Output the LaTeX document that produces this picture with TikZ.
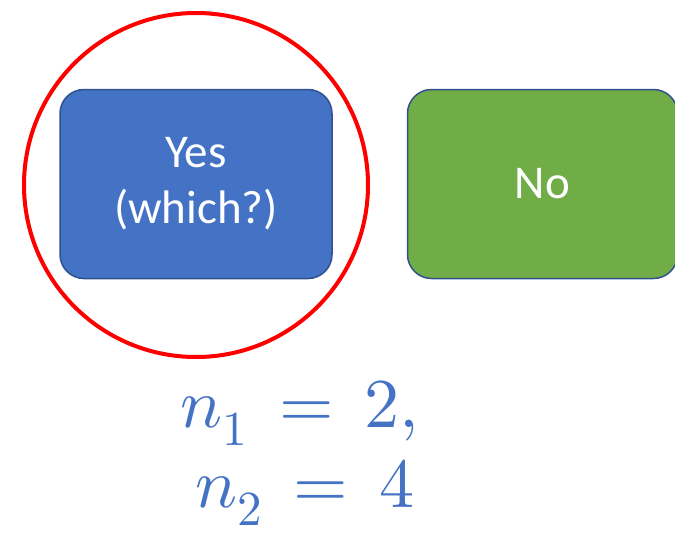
\documentclass[tikz,border=0pt]{standalone}
\usepackage{fontspec}
\usepackage{unicode-math}
\setmainfont{Carlito}
\usepackage{tikz}
\usetikzlibrary{positioning}
\definecolor{accentblue}{HTML}{4472C4}
\definecolor{accentgreen}{HTML}{70AD47}
\definecolor{edgeblue}{HTML}{2F528F}
\tikzset{
  choice/.style={draw=edgeblue, line width=1.5pt, rounded corners=24pt, align=center, text=white, minimum width=272pt, minimum height=189pt, font=\fontsize{47}{56}\selectfont},
  highlight/.style={draw=red, line width=4pt, circle, minimum size=344pt, inner sep=0pt},
  count/.style={align=center, text=accentblue, inner sep=0pt, font=\fontsize{70}{80}\selectfont}
}
\begin{document}
\begin{tikzpicture}[x=1pt, y=-1pt, node distance=74pt]
    \useasboundingbox (0,0) rectangle (675,533);
    \node[choice, fill=accentblue] (yes) at (196,184) {Yes\\(which?)};
    \node[choice, fill=accentgreen, minimum width=270pt, right=of yes] (no) {No};
    \node[highlight] (ring) at (196,185) {};
    \node[count, anchor=north] (counts) at (300,381) {$n_1 \,=\, 2,$\\\hspace{10pt}$n_2 \,=\, 4$};
\end{tikzpicture}
\end{document}
